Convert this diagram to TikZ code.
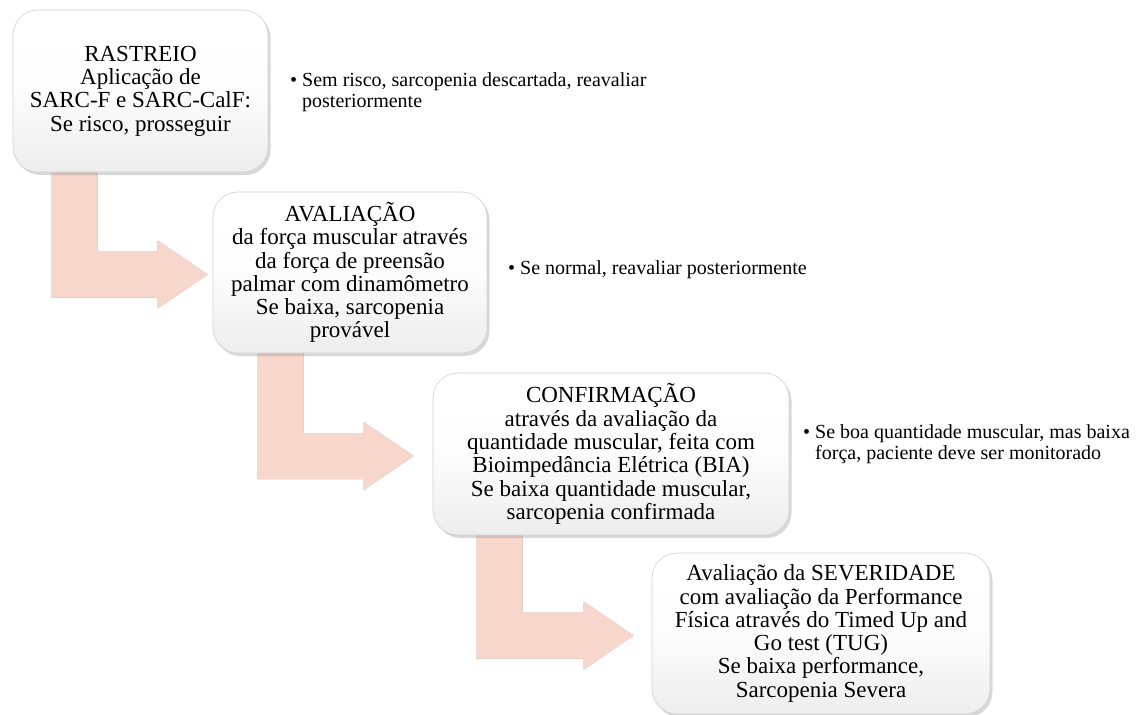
\documentclass[tikz,border=0pt]{standalone}
\usepackage{fontspec}
\setmainfont{Liberation Serif}
\usetikzlibrary{shadows,backgrounds,calc}
\definecolor{arrowpink}{HTML}{F7D6CC}
\pgfdeclareverticalshading{boxshade}{100bp}{color(0bp)=(black!15); color(25bp)=(black!7); color(50bp)=(black!1); color(65bp)=(white); color(100bp)=(white)}
\tikzset{
  stepbox/.style={rounded corners=25pt, draw=black!18, line width=0.6pt,
    shading=boxshade, align=center, inner sep=0pt,
    font=\fontsize{23}{23.3}\selectfont,
    drop shadow={shadow xshift=2.5pt, shadow yshift=-3pt, opacity=0.3}},
  bullettext/.style={anchor=base west, inner sep=0pt, font=\fontsize{20}{21}\selectfont},
  bentarrow/.style={fill=arrowpink},
  arrowshadow/.style={fill=black!35, xshift=1.5pt, yshift=-2pt}
}
\newcommand{\bendarrow}[5]{%
  \path[#5] let \p1=($(#1.south west)+(#3,0)$), \p2=($(#2.west)+(-#4,2)$) in
    (\x1,\y1+12pt) -- (\x1+46pt,\y1+12pt) -- (\x1+46pt,\y2+23pt) -- (\x2-50pt,\y2+23pt)
    -- (\x2-50pt,\y2+34pt) -- (\x2,\y2) -- (\x2-50pt,\y2-34pt) -- (\x2-50pt,\y2-23pt)
    -- (\x1,\y2-23pt) -- cycle;}
\begin{document}
\begin{tikzpicture}[x=1pt,y=-1pt]
\useasboundingbox (0,0) rectangle (1141,715);

\node[stepbox, minimum width=255pt, minimum height=162pt] (b1) at (140.5,91)
  {RASTREIO\\Aplicação de\\SARC-F e SARC-CalF:\\Se risco, prosseguir};
\node[stepbox, minimum width=274pt, minimum height=161pt] (b2) at (350,272.5)
  {AVALIAÇÃO\\da força muscular através\\da força de preensão\\palmar com dinamômetro\\Se baixa, sarcopenia\\provável};
\node[stepbox, minimum width=356pt, minimum height=162pt] (b3) at (611,454)
  {CONFIRMAÇÃO\\através da avaliação da\\quantidade muscular, feita com\\Bioimpedância Elétrica (BIA)\\Se baixa quantidade muscular,\\sarcopenia confirmada};
\node[stepbox, minimum width=338pt, minimum height=161pt] (b4) at (821,633.5)
  {Avaliação da SEVERIDADE\\com avaliação da Performance\\Física através do Timed Up and\\Go test (TUG)\\Se baixa performance,\\Sarcopenia Severa};

\node[bullettext] (t1) at (290,86)
  {\begin{tabular}[t]{@{}l@{\hspace{5pt}}l@{}}\textbullet & Sem risco, sarcopenia descartada, reavaliar\\ & posteriormente\end{tabular}};
\node[bullettext] (t2) at (508,274)
  {\begin{tabular}[t]{@{}l@{\hspace{5pt}}l@{}}\textbullet & Se normal, reavaliar posteriormente\end{tabular}};
\node[bullettext] (t3) at (803,438)
  {\begin{tabular}[t]{@{}l@{\hspace{5pt}}l@{}}\textbullet & Se boa quantidade muscular, mas baixa\\ & força, paciente deve ser monitorado\end{tabular}};

\begin{scope}[on background layer]
  \fill[white] (0,0) rectangle (1141,715);
  \bendarrow{b1}{b2}{39}{5}{arrowshadow}
  \bendarrow{b2}{b3}{45}{19}{arrowshadow}
  \bendarrow{b3}{b4}{44}{18}{arrowshadow}
  \bendarrow{b1}{b2}{39}{5}{bentarrow}
  \bendarrow{b2}{b3}{45}{19}{bentarrow}
  \bendarrow{b3}{b4}{44}{18}{bentarrow}
\end{scope}
\end{tikzpicture}
\end{document}
